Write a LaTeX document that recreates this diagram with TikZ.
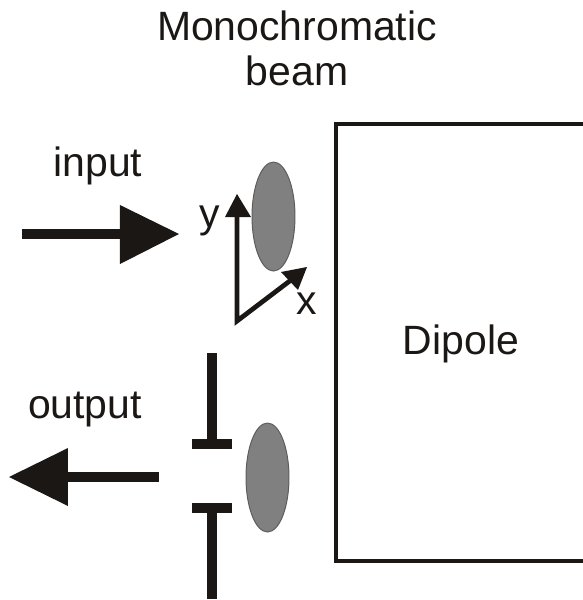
\documentclass[tikz,border=0pt]{standalone}
\usepackage{fontspec}
\setmainfont{Liberation Sans}
\usetikzlibrary{shapes.geometric}
\definecolor{ink}{HTML}{1A1715}
\definecolor{blob}{HTML}{808080}
\tikzset{
 px/.style={x=0.02cm,y=-0.02cm},
 lab/.style={font=\fontsize{23.3}{25.5}\selectfont,text=ink,inner sep=0pt,align=center},
 heavy/.style={draw=ink,line width=0.19cm},
 thin/.style={draw=ink,line width=0.095cm},
 spot/.style={ellipse,draw=ink!70,line width=0.02cm,fill=blob,inner sep=0pt,minimum width=0.86cm,minimum height=2.18cm},
}
\begin{document}
\begin{tikzpicture}[px]
\useasboundingbox (0,0) rectangle (583,600);
\node[lab] (title) at (297,48) {Monochromatic\\beam};
\node[lab] (input) at (98,166) {input};
\node[lab] (output) at (85,410) {output};
\node[lab] (dip) at (461,344) {Dipole};
\node[lab] (ylab) at (210,221) {y};
\node[lab] (xlab) at (307,304) {x};
\draw[thin] (583,124) -- (336,124) -- (336,561) -- (583,561);
\node[spot] (s1) at (273.5,216.5) {};
\node[spot] (s2) at (267.5,477.5) {};
% axes
\coordinate (o) at (237,321);
\coordinate (yt) at (237,194);
\coordinate (xt) at (307,267);
\draw[thin] (237,215) -- (o) -- (291,280);
\fill[ink] (yt) -- (251,217) -- (225,217) -- cycle;
\fill[ink] (xt) -- (298,290) -- (281,272) -- cycle;
% input arrow
\coordinate (ia) at (22,234);
\coordinate (ib) at (179,234);
\draw[heavy] (ia) -- (125,234);
\fill[ink] (ib) -- (120,205) -- (120,264) -- cycle;
% output arrow
\coordinate (oa) at (159,477);
\coordinate (ob) at (9,477);
\draw[heavy] (oa) -- (65,477);
\fill[ink] (ob) -- (68,448) -- (68,506) -- cycle;
% slits
\coordinate (t1) at (212,353);
\coordinate (t2) at (212,444);
\coordinate (b1) at (212,599);
\coordinate (b2) at (212,508);
\draw[heavy] (t1) -- (t2);
\draw[heavy] (b1) -- (b2);
\draw[heavy] (192,444) -- (232,444);
\draw[heavy] (192,508) -- (232,508);
\end{tikzpicture}
\end{document}
